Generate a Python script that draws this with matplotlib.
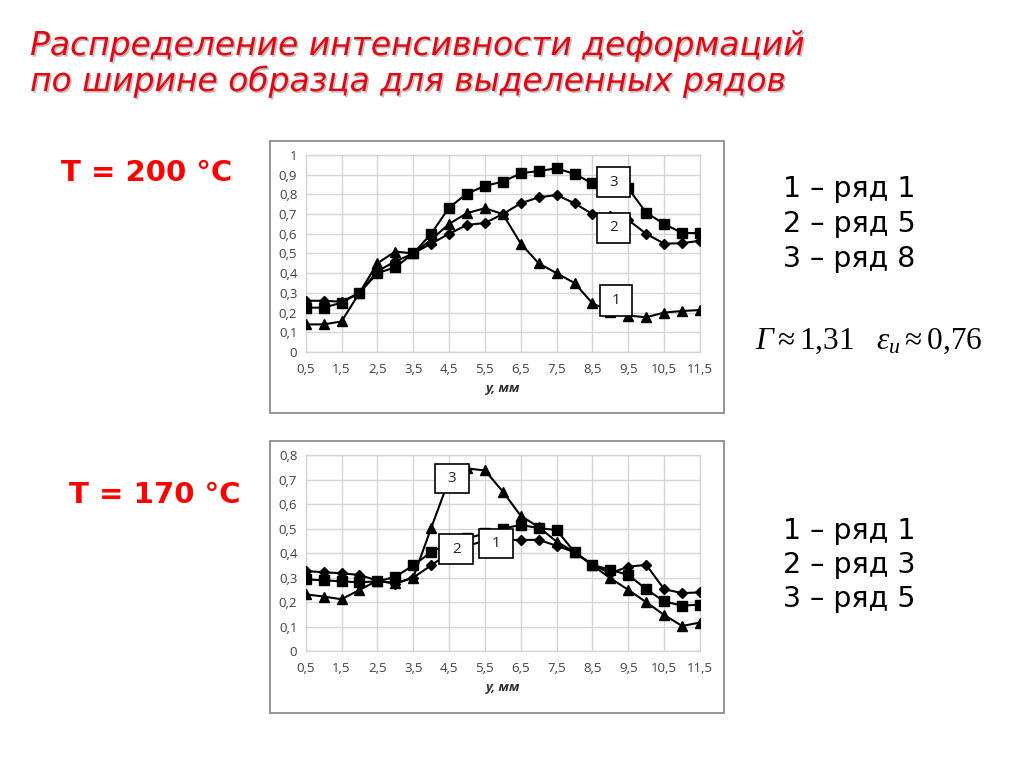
import matplotlib
matplotlib.use("Agg")
import matplotlib.pyplot as plt
import matplotlib.patheffects as pe
from matplotlib.patches import Rectangle
from matplotlib.ticker import FuncFormatter, MultipleLocator

plt.rcParams["font.family"] = ["Open Sans", "DejaVu Sans"]
plt.rcParams["mathtext.fontset"] = "custom"
plt.rcParams["mathtext.rm"] = "Liberation Serif"
plt.rcParams["mathtext.it"] = "Liberation Serif:italic"

# ---------------------------------------------------------------------------
# Data
# ---------------------------------------------------------------------------
Y_MM = [0.5, 1.0, 1.5, 2.0, 2.5, 3.0, 3.5, 4.0, 4.5, 5.0, 5.5, 6.0,
        6.5, 7.0, 7.5, 8.0, 8.5, 9.0, 9.5, 10.0, 10.5, 11.0, 11.5]

# T = 200 °C : 1 - row 1 (triangles), 2 - row 5 (diamonds), 3 - row 8 (squares)
T200_ROW1 = [0.14, 0.14, 0.155, 0.30, 0.45, 0.51, 0.50, 0.57, 0.65, 0.705, 0.73, 0.70,
             0.55, 0.45, 0.40, 0.35, 0.247, 0.205, 0.185, 0.176, 0.20, 0.208, 0.213]
T200_ROW5 = [0.26, 0.26, 0.255, 0.30, 0.41, 0.46, 0.50, 0.55, 0.60, 0.645, 0.655, 0.70,
             0.755, 0.785, 0.797, 0.755, 0.70, 0.69, 0.67, 0.60, 0.55, 0.552, 0.565]
T200_ROW8 = [0.225, 0.225, 0.25, 0.30, 0.40, 0.43, 0.50, 0.60, 0.733, 0.804, 0.843, 0.865,
             0.907, 0.919, 0.932, 0.904, 0.856, 0.86, 0.83, 0.707, 0.65, 0.604, 0.604]

# T = 170 °C : diamonds, squares, triangles
T170_DIAM = [0.327, 0.322, 0.318, 0.311, 0.288, 0.275, 0.30, 0.35, 0.40, 0.43, 0.45, 0.453,
             0.454, 0.454, 0.43, 0.404, 0.352, 0.318, 0.345, 0.352, 0.253, 0.237, 0.24]
T170_SQR = [0.293, 0.289, 0.285, 0.281, 0.285, 0.303, 0.35, 0.404, 0.44, 0.46, 0.48, 0.50,
            0.515, 0.502, 0.494, 0.404, 0.352, 0.332, 0.311, 0.253, 0.203, 0.186, 0.19]
T170_TRI = [0.232, 0.223, 0.212, 0.25, 0.288, 0.277, 0.30, 0.502, 0.70, 0.745, 0.737, 0.651,
            0.552, 0.506, 0.447, 0.404, 0.35, 0.298, 0.25, 0.20, 0.148, 0.103, 0.117]

X_TICKS = [0.5, 1.5, 2.5, 3.5, 4.5, 5.5, 6.5, 7.5, 8.5, 9.5, 10.5, 11.5]

TITLE_1 = "Распределение интенсивности деформаций"
TITLE_2 = "по ширине образца для выделенных рядов"
LEGEND_200 = ["1 – ряд 1", "2 – ряд 5", "3 – ряд 8"]
LEGEND_170 = ["1 – ряд 1", "2 – ряд 3", "3 – ряд 5"]

RED = "#e30613"
GRID = "#d4d4d4"
TICK_COLOR = "#404040"


def comma(v, _pos):
    return f"{v:g}".replace(".", ",")


def setup_axes(ax, ymax):
    ax.set_zorder(2)
    ax.set_xlim(0.5, 11.5)
    ax.set_ylim(0, ymax)
    ax.set_xticks(X_TICKS)
    ax.yaxis.set_major_locator(MultipleLocator(0.1))
    ax.xaxis.set_major_formatter(FuncFormatter(comma))
    ax.yaxis.set_major_formatter(FuncFormatter(comma))
    ax.grid(True, color=GRID, linewidth=1.0)
    ax.set_axisbelow(True)
    for s in ax.spines.values():
        s.set_color(GRID)
        s.set_linewidth(1.0)
    ax.tick_params(axis="both", length=0, labelsize=9.5, colors=TICK_COLOR)
    ax.tick_params(axis="x", pad=8)
    ax.tick_params(axis="y", pad=6)
    ax.set_xlabel("y, мм", fontsize=9.5, fontweight="bold", fontstyle="italic",
                  color="#333333", labelpad=4)


def curve(ax, y, marker, ms):
    ax.plot(Y_MM, y, color="black", linewidth=1.5, marker=marker, markersize=ms,
            markerfacecolor="black", markeredgecolor="black", zorder=3)


def label_box(ax, x0, x1, y0, y1, text):
    ax.add_patch(Rectangle((x0, y0), x1 - x0, y1 - y0, facecolor="white",
                           edgecolor="black", linewidth=1.2, zorder=5))
    ax.text((x0 + x1) / 2, (y0 + y1) / 2, text, ha="center", va="center",
            fontsize=11, color="#222222", zorder=6)


fig = plt.figure(figsize=(10.24, 7.67), dpi=100)

# chart frames
for y_top, y_bot in [(141, 413), (441, 713)]:
    fig.patches.append(Rectangle((270 / 1024, 1 - y_bot / 767), 454 / 1024,
                                 (y_bot - y_top) / 767, transform=fig.transFigure,
                                 facecolor="white", edgecolor="#8c8c8c",
                                 linewidth=1.3, zorder=0))

# --- T = 200 °C --------------------------------------------------------------
ax1 = fig.add_axes([0.2985, 0.5411, 0.3851, 0.2568])
setup_axes(ax1, 1.0)
curve(ax1, T200_ROW1, "^", 6.5)
curve(ax1, T200_ROW5, "D", 4.8)
curve(ax1, T200_ROW8, "s", 6.5)
label_box(ax1, 8.62, 9.55, 0.785, 0.938, "3")
label_box(ax1, 8.63, 9.55, 0.552, 0.707, "2")
label_box(ax1, 8.71, 9.61, 0.184, 0.340, "1")

# --- T = 170 °C --------------------------------------------------------------
ax2 = fig.add_axes([0.2985, 0.1509, 0.3851, 0.2559])
setup_axes(ax2, 0.8)
curve(ax2, T170_DIAM, "D", 4.8)
curve(ax2, T170_SQR, "s", 6.5)
curve(ax2, T170_TRI, "^", 6.5)
label_box(ax2, 4.11, 5.06, 0.644, 0.762, "3")
label_box(ax2, 4.23, 5.17, 0.356, 0.477, "2")
label_box(ax2, 5.34, 6.29, 0.379, 0.497, "1")

# --- texts -------------------------------------------------------------------
shadow = [pe.SimplePatchShadow(offset=(1.2, -1.2), shadow_rgbFace="#808080", alpha=0.5),
          pe.Normal()]
fig.text(30 / 1024, 1 - 55 / 767, TITLE_1, fontsize=23.7, fontstyle="italic",
         family="DejaVu Sans", color=RED, va="baseline", path_effects=shadow)
fig.text(30 / 1024, 1 - 91 / 767, TITLE_2, fontsize=23.7, fontstyle="italic",
         family="DejaVu Sans", color=RED, va="baseline", path_effects=shadow)

fig.text(147 / 1024, 1 - 173 / 767, "T = 200 °C", fontsize=21, fontweight="bold",
         family="DejaVu Sans", color="#ff0000", ha="center", va="center")
fig.text(155 / 1024, 1 - 495 / 767, "T = 170 °C", fontsize=21, fontweight="bold",
         family="DejaVu Sans", color="#ff0000", ha="center", va="center")

for i, s in enumerate(LEGEND_200):
    fig.text(783 / 1024, 1 - (189 + 35 * i) / 767, s, fontsize=20.5,
             family="DejaVu Sans", color="black", va="center")
for i, s in enumerate(LEGEND_170):
    fig.text(783 / 1024, 1 - (531 + 34 * i) / 767, s, fontsize=20.5,
             family="DejaVu Sans", color="black", va="center")

fig.text(755 / 1024, 1 - 341 / 767,
         r"$Г \approx \mathrm{1{,}31}\ \ \ ε_{и} \approx \mathrm{0{,}76}$",
         fontsize=22.5, color="black", va="center")

fig.savefig("out.png", dpi=100, facecolor="white")
